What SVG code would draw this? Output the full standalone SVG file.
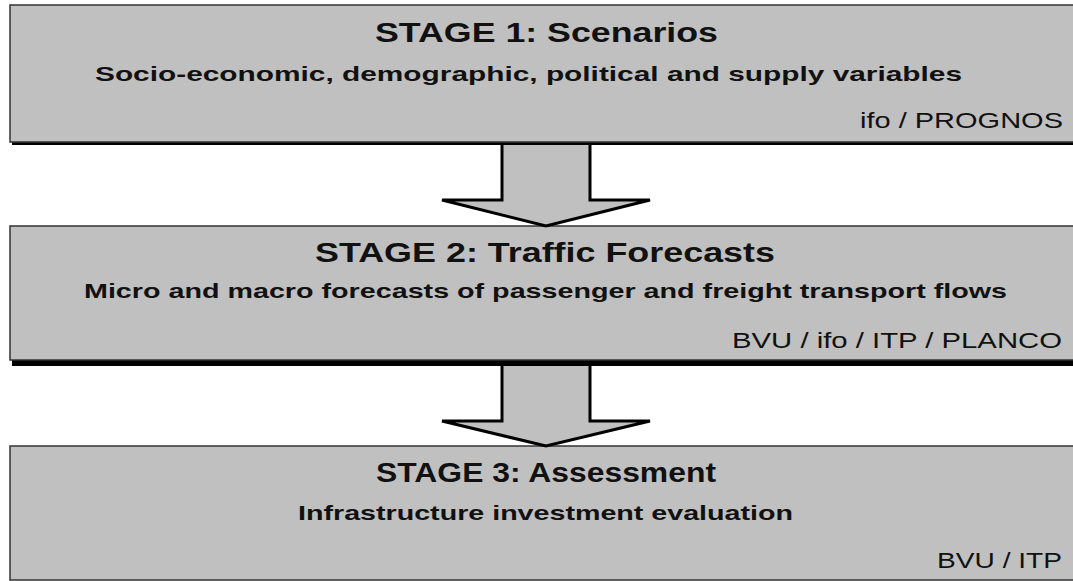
<svg xmlns="http://www.w3.org/2000/svg" width="1073" height="581" viewBox="0 0 1073 581">
<style>
.shadow{fill:#000}
.box{fill:#c0c0c0;stroke:#333;stroke-width:1.5}
.title{font-family:"Liberation Sans",Arial,sans-serif;font-weight:bold;font-size:28px;fill:#111}
.sub{font-family:"Liberation Sans",Arial,sans-serif;font-weight:bold;font-size:21px;fill:#111}
.who{font-family:"Liberation Sans",Arial,sans-serif;font-size:22px;fill:#111}
.afill{fill:#c0c0c0}
.aline{fill:none;stroke:#000;stroke-width:3;stroke-linejoin:miter}
</style>
<rect width="1073" height="581" fill="#fff"/>
<g id="stage1">
<rect class="shadow" x="12" y="8" width="1080" height="137"/>
<rect class="box" x="10" y="5" width="1080" height="137"/>
<text class="title" x="375" y="42" textLength="343" lengthAdjust="spacingAndGlyphs">STAGE 1: Scenarios</text>
<text class="sub" x="95" y="81" textLength="867" lengthAdjust="spacingAndGlyphs">Socio-economic, demographic, political and supply variables</text>
<text class="who" x="860" y="128" textLength="203" lengthAdjust="spacingAndGlyphs">ifo / PROGNOS</text>
</g>
<g id="stage2">
<rect class="shadow" x="12" y="229" width="1080" height="137"/>
<rect class="box" x="10" y="226" width="1080" height="134"/>
<text class="title" x="315" y="262" textLength="460" lengthAdjust="spacingAndGlyphs">STAGE 2: Traffic Forecasts</text>
<text class="sub" x="84" y="298" textLength="923" lengthAdjust="spacingAndGlyphs">Micro and macro forecasts of passenger and freight transport flows</text>
<text class="who" x="732" y="348" textLength="330" lengthAdjust="spacingAndGlyphs">BVU / ifo / ITP / PLANCO</text>
</g>
<g id="stage3">
<rect class="box" x="10" y="446" width="1080" height="134"/>
<text class="title" x="376" y="482" textLength="340" lengthAdjust="spacingAndGlyphs">STAGE 3: Assessment</text>
<text class="sub" x="298" y="520" textLength="495" lengthAdjust="spacingAndGlyphs">Infrastructure investment evaluation</text>
<text class="who" x="937" y="568" textLength="125" lengthAdjust="spacingAndGlyphs">BVU / ITP</text>
</g>
<g id="connectors">
<path class="afill" d="M502,145 L502,200 L442,200 L546,226 L650,200 L590,200 L590,145 Z"/>
<path class="aline" d="M502,145 L502,200 L442,200 L546,226 L650,200 L590,200 L590,145"/>
<path class="afill" d="M502,366 L502,421 L442,421 L546,446 L650,421 L590,421 L590,366 Z"/>
<path class="aline" d="M502,366 L502,421 L442,421 L546,446 L650,421 L590,421 L590,366"/>
</g>
</svg>
